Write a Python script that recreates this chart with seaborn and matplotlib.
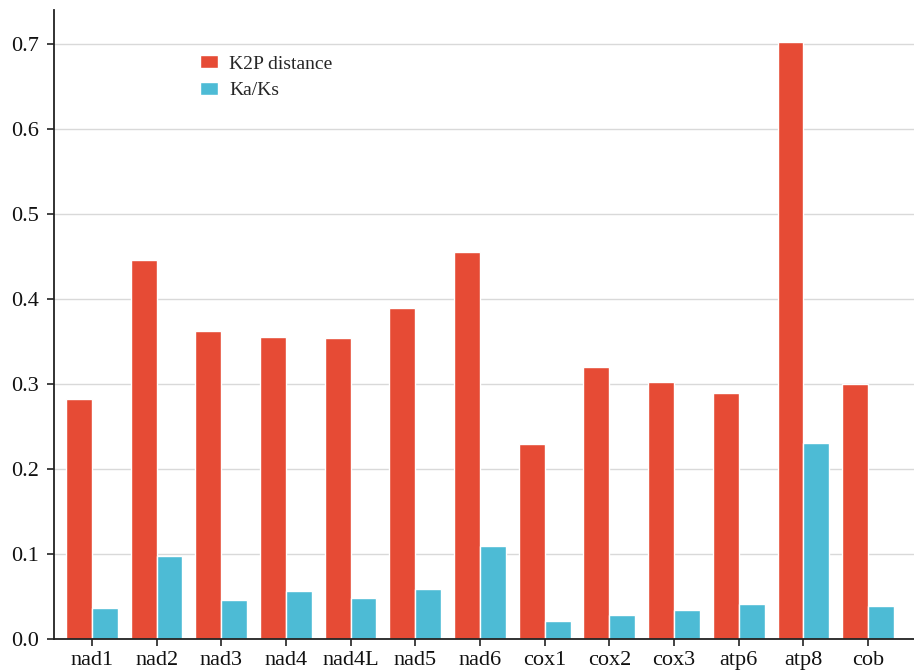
import matplotlib
matplotlib.use("Agg")
import matplotlib.pyplot as plt
import seaborn as sns
import pandas as pd

genes = ["nad1", "nad2", "nad3", "nad4", "nad4L", "nad5", "nad6",
         "cox1", "cox2", "cox3", "atp6", "atp8", "cob"]
k2p = [0.283, 0.446, 0.362, 0.355, 0.354, 0.390, 0.455,
       0.229, 0.320, 0.302, 0.289, 0.702, 0.300]
kaks = [0.036, 0.098, 0.046, 0.057, 0.048, 0.059, 0.110,
        0.021, 0.028, 0.034, 0.041, 0.231, 0.039]
series = ["K2P distance", "Ka/Ks"]
colors = ["#E64B35", "#4DBBD5"]

df = pd.DataFrame({
    "gene": genes * 2,
    "value": k2p + kaks,
    "metric": [series[0]] * len(genes) + [series[1]] * len(genes),
})

sns.set_style("white")
plt.rcParams["font.family"] = ["Liberation Serif", "DejaVu Serif"]

fig = plt.figure(figsize=(9.14, 6.72), dpi=100)
ax = fig.add_axes([0.059, 0.049, 0.941, 0.936])

sns.barplot(data=df, x="gene", y="value", hue="metric", order=genes,
            hue_order=series, palette=colors, width=0.8, ax=ax,
            edgecolor="white", linewidth=1.0, saturation=1, zorder=2)

ax.set_xlim(-0.587, 12.71)
ax.set_ylim(0, 0.74)
ax.set_yticks([0.0, 0.1, 0.2, 0.3, 0.4, 0.5, 0.6, 0.7])
ax.set_yticklabels(["0.0", "0.1", "0.2", "0.3", "0.4", "0.5", "0.6", "0.7"])
ax.yaxis.grid(True, color="#d9d9d9", linewidth=1.0, zorder=0)
ax.xaxis.grid(False)
ax.set_axisbelow(True)
ax.set_xlabel("")
ax.set_ylabel("")
for s in ["top", "right"]:
    ax.spines[s].set_visible(False)
for s in ["left", "bottom"]:
    ax.spines[s].set_color("#222222")
    ax.spines[s].set_linewidth(1.3)
    ax.spines[s].set_zorder(10)
ax.tick_params(axis="both", which="both", length=5, width=1.2, color="#222222",
               labelsize=16, labelcolor="#111111", direction="out",
               left=True, bottom=True)
ax.tick_params(axis="y", pad=5.5)

leg = ax.legend(loc="upper left", bbox_to_anchor=(0.200, 0.944),
                bbox_transform=fig.transFigure, frameon=False, fontsize=14,
                handlelength=0.93, handleheight=0.67, handletextpad=0.57,
                labelspacing=0.47)

fig.savefig("out.png", dpi=100)
